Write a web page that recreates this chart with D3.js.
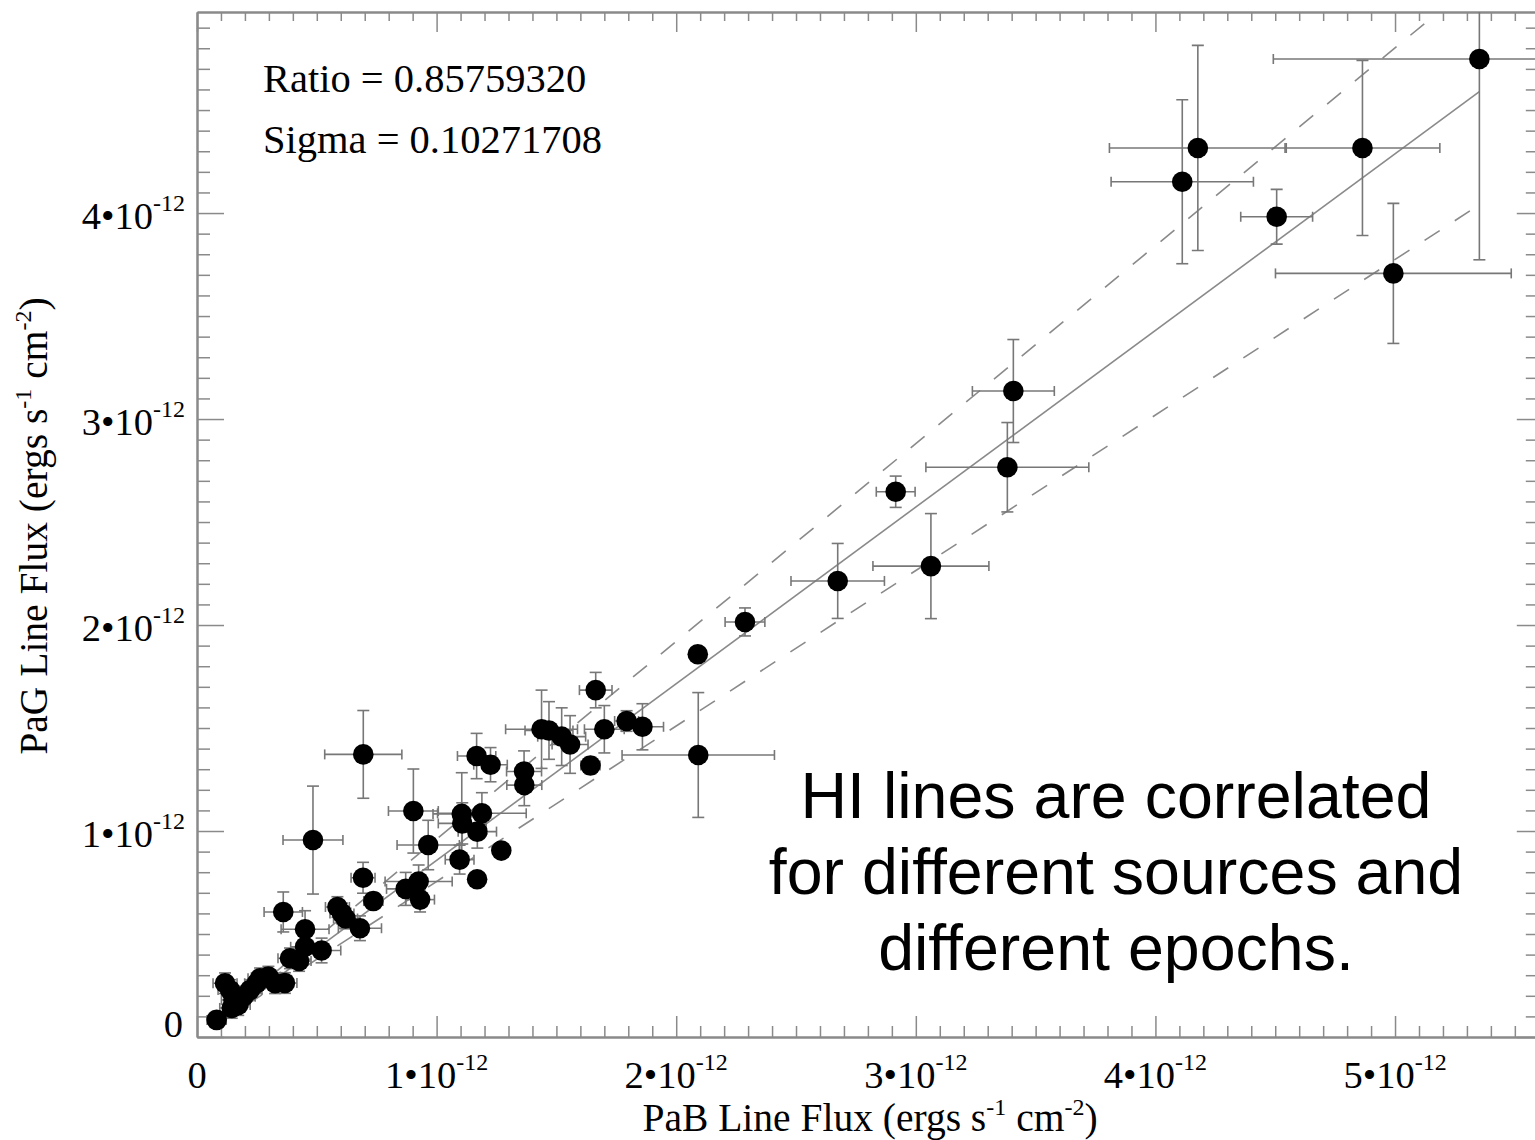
<!DOCTYPE html>
<html>
<head>
<meta charset="utf-8">
<script src="https://cdn.jsdelivr.net/npm/d3@7"></script>
<style>
  html, body { margin: 0; padding: 0; background: #fff; }
  svg { display: block; }
</style>
</head>
<body>
<svg id="chart" width="1535" height="1140"></svg>
<script>
// ---- DATA (fluxes in units of 1e-12 ergs s^-1 cm^-2) ----
const pabFlux = [5.352, 4.864, 4.177, 4.112, 4.506, 4.993, 3.407, 3.382, 2.916, 3.063,
                 2.674, 2.287, 2.090, 2.092, 1.664, 1.700, 1.793, 1.859, 1.642, 1.438,
                 1.469, 1.522, 1.557, 1.167, 1.225, 1.365, 1.366, 0.694, 0.903, 0.484,
                 1.105, 1.107, 1.189, 1.170, 0.965, 1.270, 1.096, 1.169, 0.925, 0.871,
                 0.931, 0.693, 0.736, 0.680, 0.360, 0.451, 0.520, 0.586, 0.605, 0.620,
                 0.451, 0.388, 0.426, 0.367, 0.326, 0.298, 0.263, 0.249, 0.221, 0.193,
                 0.172, 0.152, 0.145, 0.117, 0.082, 0.138];
const pagFlux = [4.748, 4.316, 4.316, 4.152, 3.982, 3.707, 3.136, 2.766, 2.647, 2.286,
                 2.214, 2.015, 1.858, 1.369, 1.684, 1.494, 1.534, 1.506, 1.318, 1.494,
                 1.488, 1.458, 1.420, 1.364, 1.322, 1.289, 1.223, 1.372, 1.097, 0.956,
                 1.083, 1.037, 1.086, 0.997, 0.932, 0.905, 0.861, 0.766, 0.755, 0.719,
                 0.667, 0.773, 0.660, 0.528, 0.607, 0.523, 0.420, 0.631, 0.600, 0.575,
                 0.438, 0.382, 0.369, 0.262, 0.261, 0.293, 0.285, 0.261, 0.228, 0.196,
                 0.155, 0.180, 0.141, 0.261, 0.083, 0.228];
const pabErr  = [0.860, 0.323, 0.369, 0.297, 0.150, 0.492, 0.171, 0.340, 0.081, 0.242,
                 0.195, 0.083, 0.030, 0.318, 0.068, 0.083, 0.050, 0.088, 0.040, 0.150,
                 0.100, 0.100, 0.075, 0.080, 0.070, 0.073, 0.073, 0.161, 0.104, 0.125,
                 0.120, 0.100, 0.185, 0.080, 0.130, 0.030, 0.060, 0.030, 0.140, 0.080,
                 0.060, 0.050, 0.040, 0.090, 0.080, 0.100, 0.080, 0.050, 0.050, 0.050,
                 0.060, 0.050, 0.050, 0.050, 0.050, 0.050, 0.050, 0.050, 0.050, 0.050,
                 0.050, 0.050, 0.050, 0.050, 0.040, 0.050];
const pagErr  = [0.975, 0.425, 0.498, 0.398, 0.133, 0.340, 0.250, 0.217, 0.076, 0.255,
                 0.182, 0.068, 0.030, 0.303, 0.086, 0.115, 0.050, 0.112, 0.040, 0.190,
                 0.140, 0.140, 0.140, 0.110, 0.083, 0.100, 0.100, 0.213, 0.204, 0.262,
                 0.200, 0.100, 0.100, 0.080, 0.120, 0.030, 0.070, 0.030, 0.080, 0.080,
                 0.060, 0.075, 0.040, 0.060, 0.097, 0.090, 0.060, 0.050, 0.050, 0.050,
                 0.060, 0.050, 0.050, 0.050, 0.050, 0.050, 0.050, 0.050, 0.050, 0.050,
                 0.050, 0.050, 0.050, 0.050, 0.040, 0.050];

const ratio = 0.85759320;
const sigma = 0.10271708;

const xTickValues = [0, 1, 2, 3, 4, 5];
const xTickMantissa = ["0", "1•10", "2•10", "3•10", "4•10", "5•10"];
const yTickValues = [0, 1, 2, 3, 4];
const yTickMantissa = ["0", "1•10", "2•10", "3•10", "4•10"];
const tickExponent = "-12";

const annotationLines = ["HI lines are correlated", "for different sources and", "different epochs."];

// ---- LAYOUT ----
const svg = d3.select("#chart");
const L = 197, R = 1538.8, T = 12, B = 1037;
const x = d3.scaleLinear().domain([0, 5.6]).range([L, R]);
const y = d3.scaleLinear().domain([0, 4.976]).range([B, T]);

const axisColor = "#8a8a8a";
const serif = "'Liberation Serif', 'Times New Roman', serif";
const sans = "'Liberation Sans', Arial, sans-serif";

svg.append("defs").append("clipPath").attr("id", "plotclip")
  .append("rect").attr("x", L).attr("y", T).attr("width", R - L).attr("height", B - T);

// ---- AXES (ticks inward on all four sides) ----
const xMinor = d3.range(0, 56.01, 1).map(d => d / 10).filter(v => v % 1 !== 0);
const yMinor = d3.range(0, 49.01, 1).map(d => d / 10).filter(v => v % 1 !== 0);
const xMajor = d3.range(0, 6, 1);
const yMajor = d3.range(0, 5, 1);

function styleAxis(g) {
  g.selectAll("path.domain").attr("stroke", axisColor).attr("stroke-width", 2);
  g.selectAll(".tick line").attr("stroke", axisColor).attr("stroke-width", 1.5);
  g.selectAll(".tick text").remove();
}
function addAxis(gen, tx, ty, scaleVals, size) {
  const g = svg.append("g").attr("transform", `translate(${tx},${ty})`)
    .call(gen.tickValues(scaleVals).tickSizeInner(size).tickSizeOuter(0).tickFormat(""));
  styleAxis(g);
  return g;
}
addAxis(d3.axisBottom(x), 0, B, xMinor, -11);
addAxis(d3.axisBottom(x), 0, B, xMajor, -21);
addAxis(d3.axisTop(x), 0, T, xMinor, -9);
addAxis(d3.axisTop(x), 0, T, xMajor, -20);
addAxis(d3.axisLeft(y), L, 0, yMinor, -13);
addAxis(d3.axisLeft(y), L, 0, yMajor, -27);
addAxis(d3.axisRight(y), R, 0, yMinor, -13);
addAxis(d3.axisRight(y), R, 0, yMajor, -22);

// ---- TICK LABELS ----
const xl = svg.append("g").attr("font-family", serif).attr("fill", "#000");
xTickValues.forEach((v, i) => {
  const t = xl.append("text").attr("x", x(v)).attr("y", 1088)
    .attr("text-anchor", "middle").attr("font-size", 38.5);
  t.append("tspan").text(xTickMantissa[i]);
  if (v !== 0) t.append("tspan").attr("dy", -18).attr("font-size", 24).text(tickExponent);
});
const yl = svg.append("g").attr("font-family", serif).attr("fill", "#000");
yTickValues.forEach((v, i) => {
  const t = yl.append("text").attr("x", v === 0 ? 183 : 185)
    .attr("y", v === 0 ? B : y(v) + 16)
    .attr("text-anchor", "end").attr("font-size", 38.5);
  t.append("tspan").text(yTickMantissa[i]);
  if (v !== 0) t.append("tspan").attr("dy", -18).attr("font-size", 24).text(tickExponent);
});

// ---- AXIS TITLES ----
function title(sel, name) {
  sel.append("tspan").text(name + " Line Flux (ergs s");
  sel.append("tspan").attr("dy", -16).attr("font-size", 24).text("-1");
  sel.append("tspan").attr("dy", 16).text(" cm");
  sel.append("tspan").attr("dy", -16).attr("font-size", 24).text("-2");
  sel.append("tspan").attr("dy", 16).text(")");
}
const xt = svg.append("text").attr("x", 870).attr("y", 1131)
  .attr("text-anchor", "middle").attr("font-family", serif).attr("font-size", 39.5).attr("fill", "#000");
title(xt, "PaB");
const yt = svg.append("text").attr("transform", "translate(47,526) rotate(-90)")
  .attr("text-anchor", "middle").attr("font-family", serif).attr("font-size", 39.5).attr("fill", "#000");
title(yt, "PaG");

// ---- FIT LINES ----
const xMin = d3.min(pabFlux), xMax = d3.max(pabFlux);
const lineGen = d3.line().x(d => x(d[0])).y(d => y(d[1]));
const plot = svg.append("g").attr("clip-path", "url(#plotclip)");
[[ratio, null], [ratio + sigma, "18,18"], [ratio - sigma, "18,18"]].forEach(([k, dash]) => {
  plot.append("path")
    .attr("d", lineGen([[xMin, k * xMin], [xMax, k * xMax]]))
    .attr("fill", "none").attr("stroke", "#8a8a8a").attr("stroke-width", 1.6)
    .attr("stroke-dasharray", dash);
});

// ---- ERROR BARS ----
const eb = plot.append("g").attr("stroke", "#777").attr("stroke-width", 1.6).attr("fill", "none");
pabFlux.forEach((px, i) => {
  const cx = x(px), cy = y(pagFlux[i]);
  const x0 = x(px - pabErr[i]), x1 = x(px + pabErr[i]);
  const y0 = y(pagFlux[i] - pagErr[i]), y1 = y(pagFlux[i] + pagErr[i]);
  eb.append("line").attr("x1", x0).attr("x2", x1).attr("y1", cy).attr("y2", cy);
  eb.append("line").attr("x1", x0).attr("x2", x0).attr("y1", cy - 5).attr("y2", cy + 5);
  eb.append("line").attr("x1", x1).attr("x2", x1).attr("y1", cy - 5).attr("y2", cy + 5);
  eb.append("line").attr("x1", cx).attr("x2", cx).attr("y1", y0).attr("y2", y1);
  eb.append("line").attr("x1", cx - 6).attr("x2", cx + 6).attr("y1", y0).attr("y2", y0);
  eb.append("line").attr("x1", cx - 6).attr("x2", cx + 6).attr("y1", y1).attr("y2", y1);
});

// ---- POINTS ----
plot.append("g").selectAll("circle").data(pabFlux).join("circle")
  .attr("cx", d => x(d)).attr("cy", (d, i) => y(pagFlux[i])).attr("r", 10.3).attr("fill", "#000");

// ---- TEXT ----
svg.append("text").attr("x", 263).attr("y", 92).attr("font-family", serif).attr("font-size", 40.5)
  .attr("fill", "#000").text("Ratio = " + ratio.toFixed(8));
svg.append("text").attr("x", 263).attr("y", 153).attr("font-family", serif).attr("font-size", 40.5)
  .attr("fill", "#000").text("Sigma = " + sigma.toFixed(8));

annotationLines.forEach((s, i) => {
  svg.append("text").attr("x", 1116).attr("y", 818 + i * 76).attr("text-anchor", "middle")
    .attr("font-family", sans).attr("font-size", 64.5).attr("fill", "#000").text(s);
});
</script>
</body>
</html>
